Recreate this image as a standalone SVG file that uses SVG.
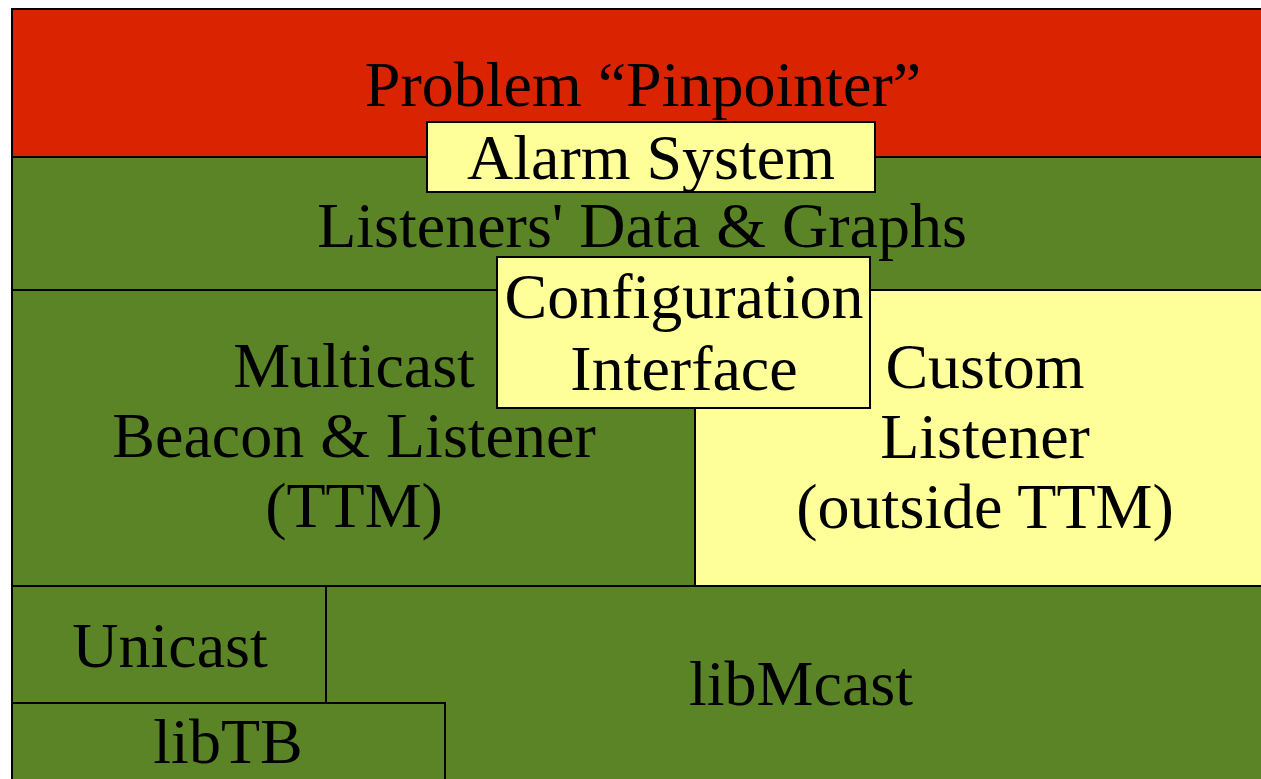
<svg xmlns="http://www.w3.org/2000/svg" width="1261" height="779" viewBox="0 0 1261 779">
<style>
rect{stroke:#000;stroke-width:2}
.red{fill:#DA2300}
.grn{fill:#5B8427}
.yel{fill:#FFFF99}
text{font-family:"Liberation Serif","Times New Roman",serif;font-size:64px;fill:#000;text-anchor:middle}
</style>
<rect width="1261" height="779" fill="#fff" style="stroke:none"/>
<g id="problem-pinpointer">
<rect class="red" x="12" y="9" width="1264" height="148"/>
<text x="643" y="106">Problem “Pinpointer”</text>
</g>
<g id="listeners-data">
<rect class="grn" x="12" y="157" width="1264" height="133"/>
<text x="642" y="247">Listeners' Data &amp; Graphs</text>
</g>
<g id="multicast">
<rect class="grn" x="12" y="290" width="683" height="296"/>
<text x="354" y="387">Multicast</text>
<text x="354" y="457">Beacon &amp; Listener</text>
<text x="354" y="527">(TTM)</text>
</g>
<g id="custom-listener">
<rect class="yel" x="695" y="290" width="581" height="296"/>
<text x="985" y="388">Custom</text>
<text x="985" y="458">Listener</text>
<text x="985" y="528">(outside TTM)</text>
</g>
<g id="libmcast">
<rect class="grn" x="326" y="586" width="950" height="200"/>
<text x="801" y="705">libMcast</text>
</g>
<g id="unicast">
<rect class="grn" x="12" y="586" width="314" height="117"/>
<text x="170" y="667">Unicast</text>
</g>
<g id="libtb">
<rect class="grn" x="12" y="703" width="433" height="83"/>
<text x="228" y="763">libTB</text>
</g>
<g id="alarm-system">
<rect class="yel" x="427" y="122" width="448" height="70"/>
<text x="651" y="179">Alarm System</text>
</g>
<g id="configuration-interface">
<rect class="yel" x="497" y="257" width="373" height="151"/>
<text x="684" y="318">Configuration</text>
<text x="684" y="390">Interface</text>
</g>
<g id="connectors"></g>
</svg>
